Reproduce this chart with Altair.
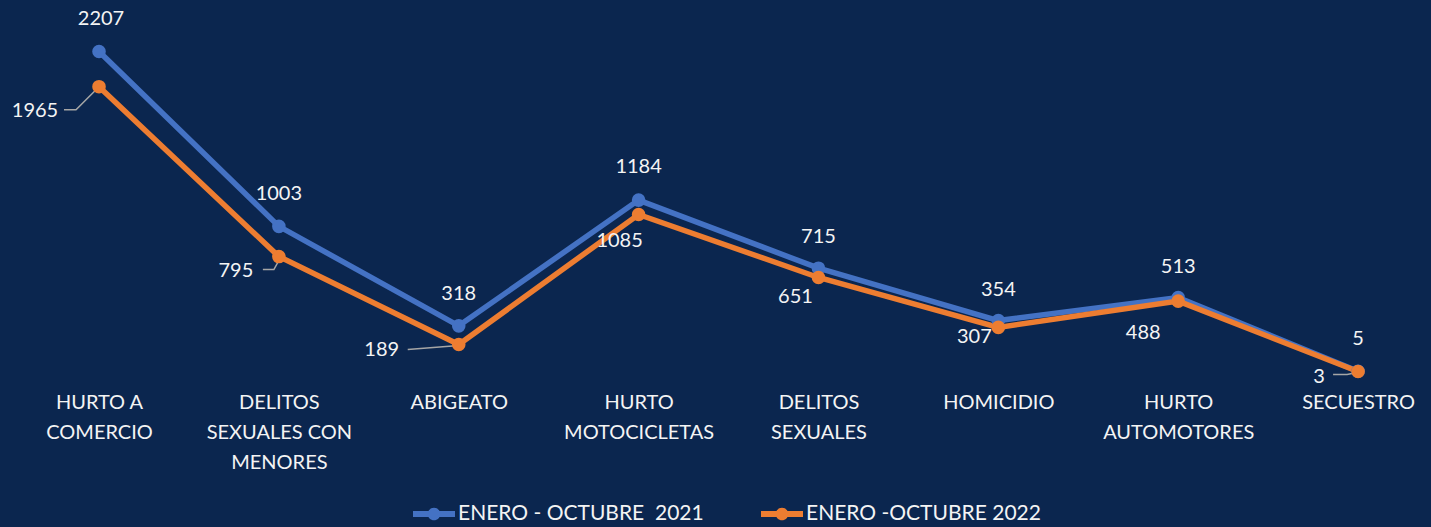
import json
import jinja2
import altair as alt
import pandas as pd

# ---------------- data ----------------
categories = [
    ["HURTO A", "COMERCIO"],
    ["DELITOS", "SEXUALES CON", "MENORES"],
    ["ABIGEATO"],
    ["HURTO", "MOTOCICLETAS"],
    ["DELITOS", "SEXUALES"],
    ["HOMICIDIO"],
    ["HURTO", "AUTOMOTORES"],
    ["SECUESTRO"],
]
series_names = ["ENERO - OCTUBRE\u00a0 2021", "ENERO -OCTUBRE 2022"]
values_2021 = [2207, 1003, 318, 1184, 715, 354, 513, 5]
values_2022 = [1965, 795, 189, 1085, 651, 307, 488, 3]

# ---------------- layout / style ----------------
W, H = 1415, 363
XD = [-0.506, 7.361]
YD = [0, 2500]
PXX = W / (XD[1] - XD[0])
PXY = H / (YD[1] - YD[0])

BG = "#0b264f"
BLUE = "#4472C4"
ORANGE = "#ED7D31"
TXT = "#f4f4f4"
FONT = "Lato"

# label offsets (pixels from point to label centre)
lab_off_2021 = [(2, -33), (0, -32), (0, -32), (0, -33), (0, -31), (0, -31), (0, -31), (0, -32)]
lab_off_2022 = [(-64, 24), (-43, 14), (-77, 5), (-19, 27), (-23, 20), (-24, 10), (-35, 32), (-39, 5)]
# leader lines for 2022 labels: category idx -> polyline pixel offsets from the point
leaders = {
    0: [(-35, 23), (-23, 23), (-1, 1)],
    1: [(-16, 13), (-5, 13), (1, 2)],
    2: [(-51, 5), (0, 1)],
    7: [(-25, 3), (-11, 3), (-1, 1)],
}

rows = []
for s, vals, offs in [(series_names[0], values_2021, lab_off_2021),
                      (series_names[1], values_2022, lab_off_2022)]:
    for i, v in enumerate(vals):
        dx, dy = offs[i]
        rows.append({"series": s, "x": i, "v": v,
                     "lx": i + dx / PXX, "ly": v - dy / PXY, "label": str(v)})
df = pd.DataFrame(rows)

lrows = []
for i, pts in leaders.items():
    v = values_2022[i]
    for k, (dx, dy) in enumerate(pts):
        lrows.append({"lead": i, "k": k, "x": i + dx / PXX, "y": v - dy / PXY})
ldf = pd.DataFrame(lrows)

label_expr = json.dumps(categories) + "[datum.value]"
xaxis = alt.Axis(values=list(range(len(categories))), labelExpr=label_expr,
                 title=None, grid=False, ticks=False, domain=False,
                 labelAngle=0, labelOverlap=False, labelBound=False, labelFlush=False,
                 labelFont=FONT, labelFontSize=20, labelColor=TXT,
                 labelLineHeight=30, labelPadding=20, labelBaseline="top")
xscale = alt.Scale(domain=XD, nice=False, zero=False)
yscale = alt.Scale(domain=YD, nice=False, zero=False)
cscale = alt.Scale(domain=series_names, range=[BLUE, ORANGE])

sym = ("M-1,-0.14H-0.25V0.14H-1Z M0.25,-0.14H1V0.14H0.25Z "
       "M0.3,0A0.3,0.3 0 1,1 -0.3,0A0.3,0.3 0 1,1 0.3,0Z")

base = alt.Chart(df)

lines = base.mark_line(strokeWidth=5.5).encode(
    x=alt.X("x:Q", scale=xscale, axis=xaxis),
    y=alt.Y("v:Q", scale=yscale, axis=None),
    color=alt.Color("series:N", scale=cscale, legend=None, sort=series_names),
)

leader_lines = alt.Chart(ldf).mark_line(stroke="#a6a6a6", strokeWidth=1.5).encode(
    x=alt.X("x:Q", scale=xscale, axis=xaxis),
    y=alt.Y("y:Q", scale=yscale, axis=None),
    detail="lead:N",
    order="k:Q",
)

points = base.mark_point(filled=True, size=185, opacity=1).encode(
    x=alt.X("x:Q", scale=xscale, axis=xaxis),
    y=alt.Y("v:Q", scale=yscale, axis=None),
    color=alt.Color("series:N", scale=cscale, sort=series_names,
                    legend=alt.Legend(orient="none", legendX=405, legendY=484,
                                      direction="horizontal", title=None,
                                      symbolType=sym, symbolSize=1764,
                                      symbolStrokeWidth=0, symbolOpacity=1,
                                      labelFont=FONT, labelFontSize=21,
                                      labelColor=TXT, labelOffset=3,
                                      labelLimit=500,
                                      columnPadding=57, padding=0)),
)

labels = base.mark_text(font=FONT, fontSize=20, color=TXT,
                        baseline="middle", align="center").encode(
    x=alt.X("lx:Q", scale=xscale, axis=xaxis),
    y=alt.Y("ly:Q", scale=yscale, axis=None),
    text="label:N",
)

chart = alt.layer(lines, leader_lines, points, labels).resolve_legend(
    color="independent"
).properties(
    width=W, height=H,
    padding={"top": 8, "left": 0, "right": 0, "bottom": 0},
    background=BG,
).configure_view(stroke=None)

PAGE = jinja2.Template("""<!DOCTYPE html>
<html>
<head>
  <style>
    html, body { background: """ + BG + """; }
    body { margin: 0 8px; }
    #{{ output_div }}.vega-embed { width: 100%; display: flex; }
  </style>
  <script type="text/javascript" src="{{ base_url }}/vega@{{ vega_version }}"></script>
  <script type="text/javascript" src="{{ base_url }}/vega-lite@{{ vegalite_version }}"></script>
  <script type="text/javascript" src="{{ base_url }}/vega-embed@{{ vegaembed_version }}"></script>
</head>
<body>
  <div id="{{ output_div }}"></div>
  <script type="text/javascript">
    (function(spec, embedOpt){
      vegaEmbed("#{{ output_div }}", spec, embedOpt).catch(function(err){
        document.getElementById("{{ output_div }}").innerHTML = '<pre style="color:red">' + err + '</pre>';
      });
    })({{ spec }}, {{ embed_options }});
  </script>
</body>
</html>
""")

chart.save("out.html", embed_options={"renderer": "svg", "actions": False}, template=PAGE)
